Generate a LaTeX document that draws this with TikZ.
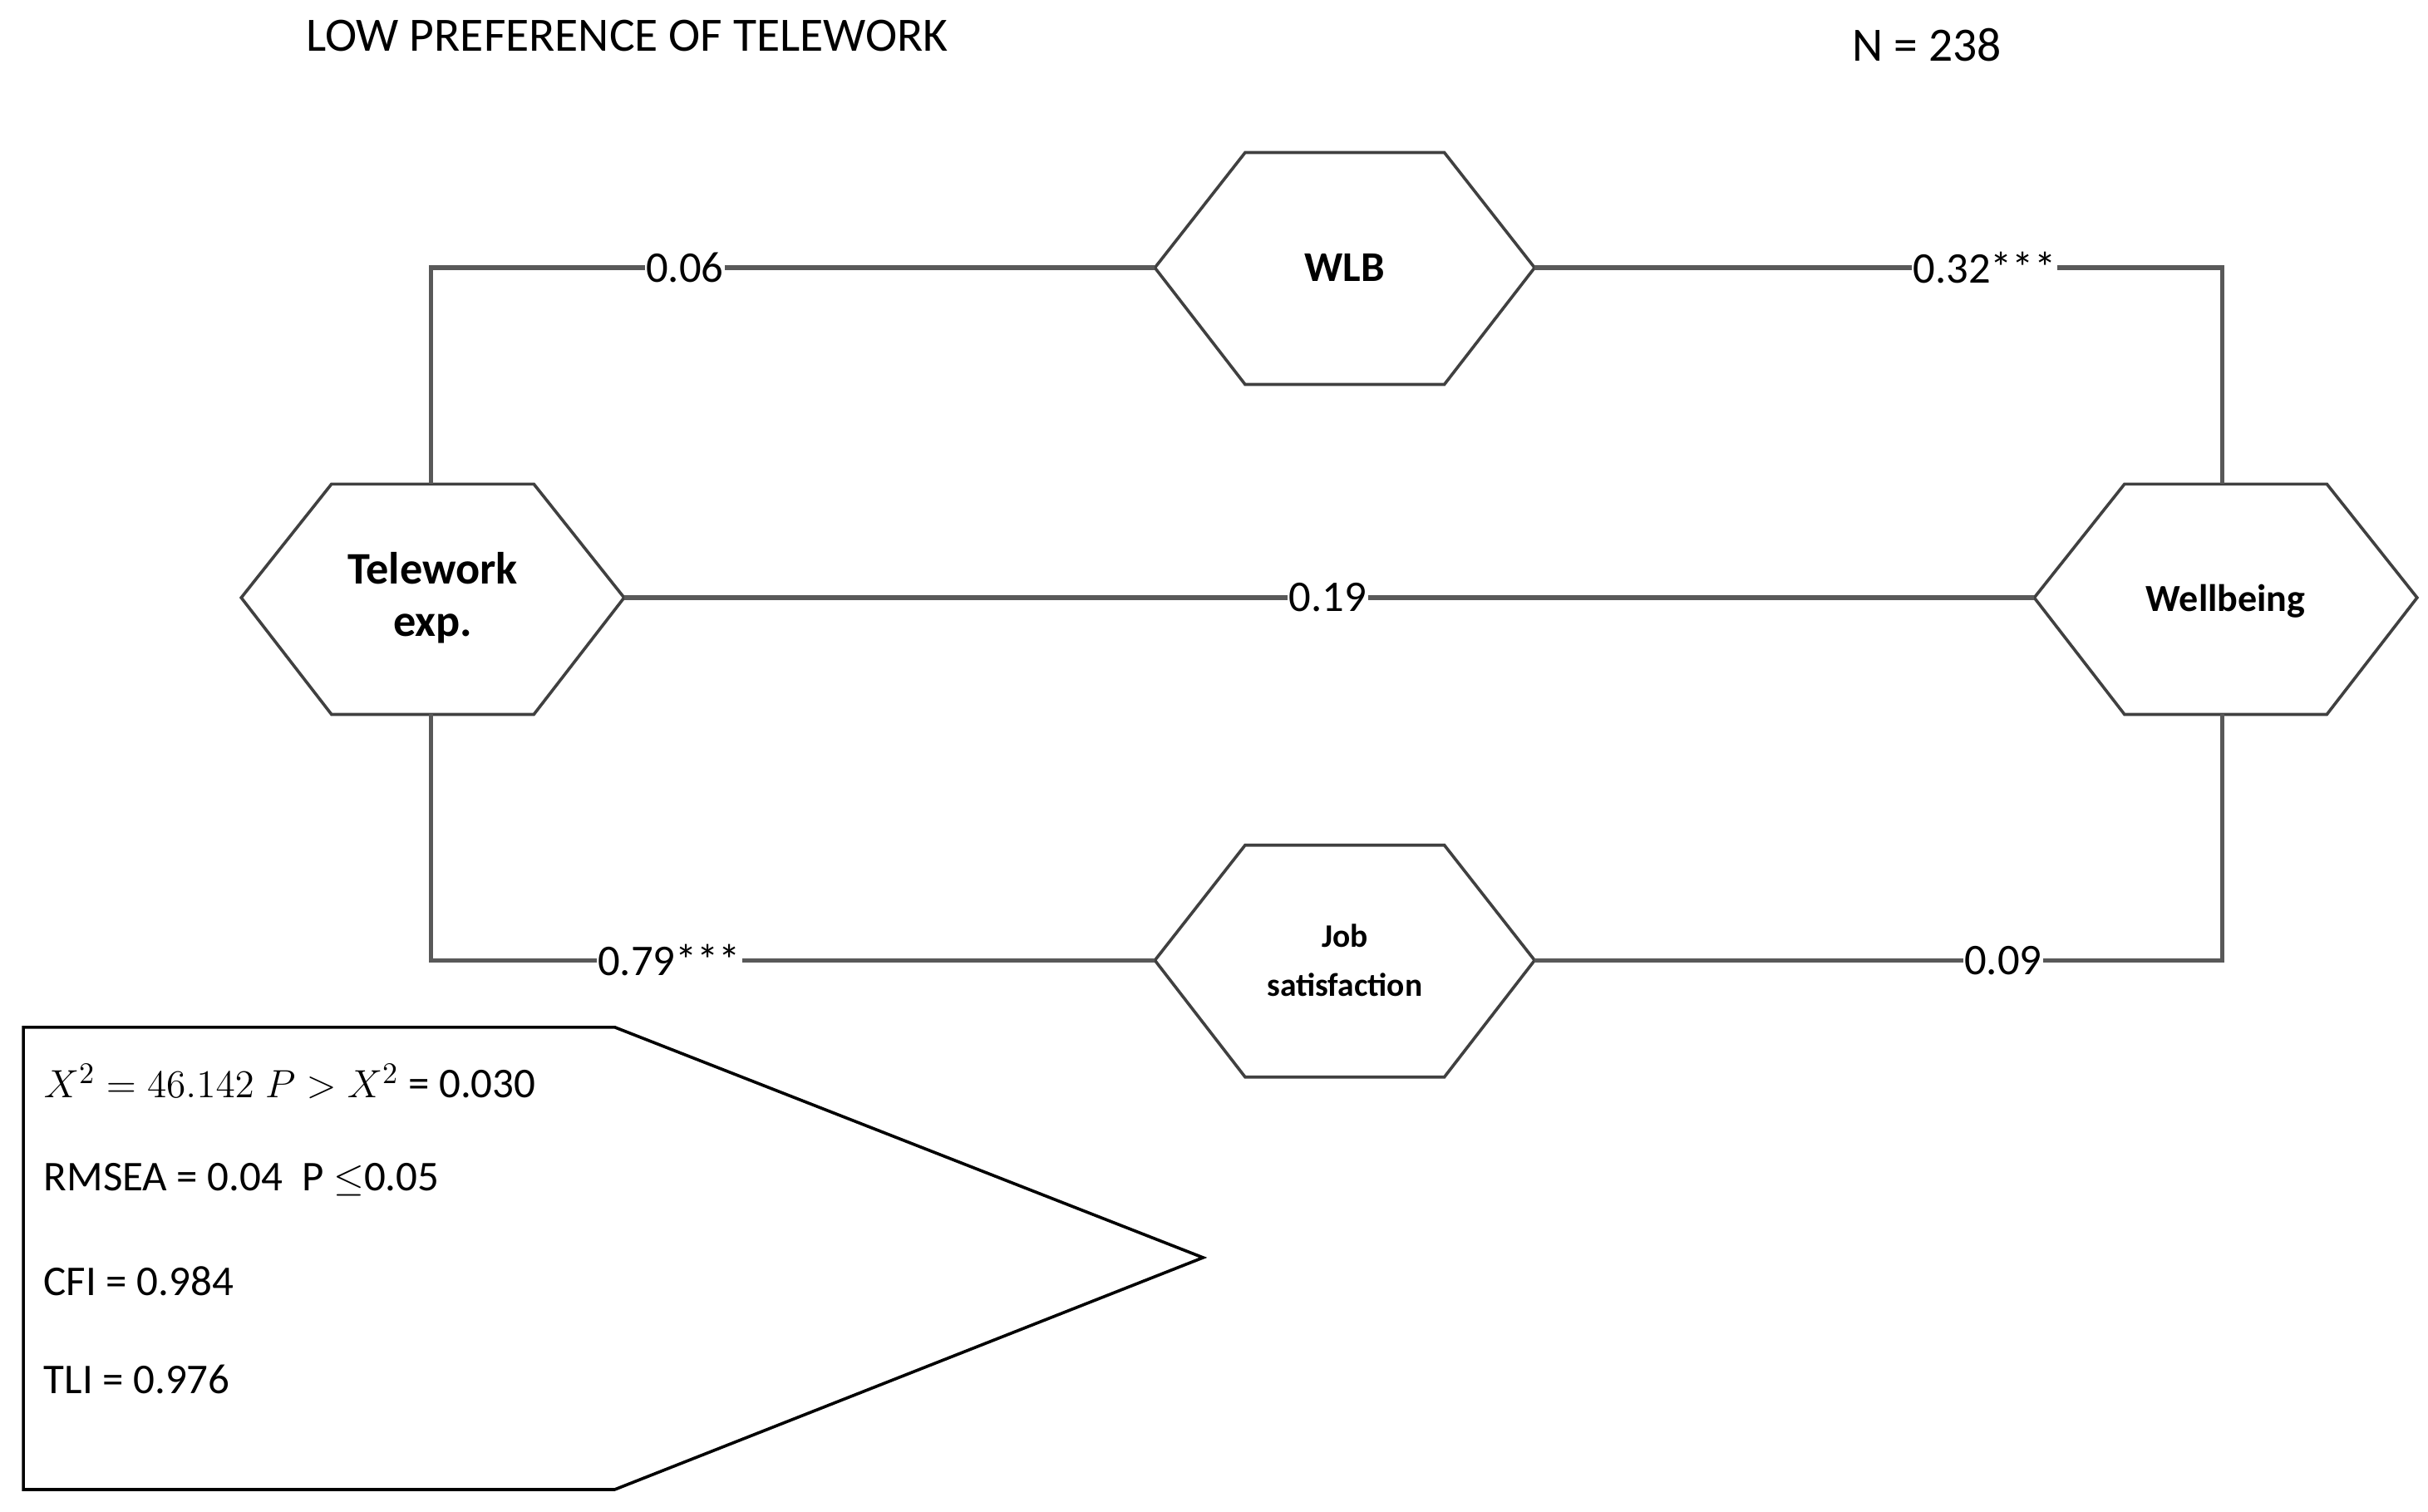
\documentclass[tikz,border=0pt]{standalone}
\usepackage{fontspec}
\setmainfont{Carlito}
\usepackage{amssymb}
\begin{document}
\begin{tikzpicture}[x=0.02cm,y=-0.02cm,
  hex/.style={draw=black!75,line width=1.1pt},
  conn/.style={draw=black!65,line width=1.6pt},
  lab/.style={fill=white,inner sep=0.5pt,font=\fontsize{16}{18}\selectfont},
  txt/.style={anchor=west,font=\fontsize{15.5}{18}\selectfont}]
\useasboundingbox (0,0) rectangle (1560,971);
% hexagons
\draw[hex] (742,172)--(800,98)--(928,98)--(986,172)--(928,247)--(800,247)--cycle;
\draw[hex] (155,384)--(213,311)--(343,311)--(401,384)--(343,459)--(213,459)--cycle;
\draw[hex] (1307,384)--(1365,311)--(1495,311)--(1553,384)--(1495,459)--(1365,459)--cycle;
\draw[hex] (742,617)--(800,543)--(928,543)--(986,617)--(928,692)--(800,692)--cycle;
\node[font=\bfseries\fontsize{15.5}{18}\selectfont] (wlb) at (864,172) {WLB};
\node[font=\bfseries\fontsize{16.5}{19}\selectfont,align=center] (tel) at (278,384) {Telework\\exp.};
\node[font=\bfseries\fontsize{14}{16}\selectfont] (wb) at (1430,386) {Wellbeing};
\node[font=\bfseries\fontsize{12}{18}\selectfont,align=center] (js) at (864,617) {Job\\satisfaction};
% coordinates
\coordinate (wlbW) at (742,172); \coordinate (wlbE) at (986,172);
\coordinate (telN) at (277,311); \coordinate (telS) at (277,459); \coordinate (telE) at (401,384);
\coordinate (wbN) at (1428,311); \coordinate (wbS) at (1428,459); \coordinate (wbW) at (1307,384);
\coordinate (jsW) at (742,617); \coordinate (jsE) at (986,617);
% connectors
\draw[conn] (telN) |- (wlbW);
\draw[conn] (wlbE) -| (wbN);
\draw[conn] (telE) -- (wbW);
\draw[conn] (telS) |- (jsW);
\draw[conn] (jsE) -| (wbS);
\node[lab] (l1) at (440,172) {0.06};
\node[lab] (l2) at (1275,172) {0.32***};
\node[lab] (l3) at (853,384) {0.19};
\node[lab] (l4) at (430,617) {0.79***};
\node[lab] (l5) at (1287,617) {0.09};
% titles
\node[font=\fontsize{17.5}{20}\selectfont] (title) at (403,23) {LOW PREFERENCE OF TELEWORK};
\node[font=\fontsize{17.5}{20}\selectfont] (n) at (1238,29) {N = 238};
% fit box
\draw[hex,draw=black] (15,660)--(395,660)--(773,808)--(395,957)--(15,957)--cycle;
\node[txt] (f1) at (22,695) {$X^2=46.142\;P>X^2$ = 0.030};
\node[txt] (f2) at (22,758) {RMSEA = 0.04 \ P $\leq$0.05};
\node[txt] (f3) at (22,823) {CFI = 0.984};
\node[txt] (f4) at (22,886) {TLI = 0.976};
\end{tikzpicture}
\end{document}
